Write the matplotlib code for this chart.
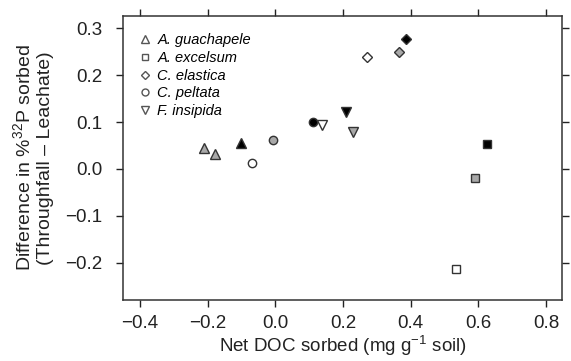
import matplotlib
matplotlib.use("Agg")
import matplotlib.pyplot as plt

plt.rcParams["font.family"] = ["Liberation Sans", "DejaVu Sans"]
plt.rcParams["mathtext.fontset"] = "custom"
plt.rcParams["mathtext.rm"] = "Liberation Sans"

species = ["A. guachapele", "A. excelsum", "C. elastica", "C. peltata", "F. insipida"]
markers = ["^", "s", "D", "o", "v"]
sizes = [7, 6, 5.5, 6, 7]

# each species: open, gray, black treatments
doc_x = {
    "A. guachapele": [-0.178, -0.21, -0.10],
    "A. excelsum": [0.533, 0.589, 0.624],
    "C. elastica": [0.27, 0.364, 0.385],
    "C. peltata": [-0.068, -0.006, 0.112],
    "F. insipida": [0.139, 0.23, 0.21],
}
p32_y = {
    "A. guachapele": [None, 0.045, 0.055],
    "A. excelsum": [-0.213, -0.019, 0.053],
    "C. elastica": [0.238, 0.249, 0.277],
    "C. peltata": [0.012, 0.062, 0.100],
    "F. insipida": [0.094, 0.079, 0.121],
}
# second gray guachapele triangle
extra_gray_x = [-0.178]
extra_gray_y = [0.032]
fills = ["white", "#a8a8a8", "black"]

fig = plt.figure(figsize=(5.71, 3.61), dpi=100)
ax = fig.add_axes([0.2154, 0.169, 0.7688, 0.787])

edge = "#333333"
for sp, mk, ms in zip(species, markers, sizes):
    xs = doc_x[sp]
    ys = p32_y[sp]
    for x, y, fc in zip(xs, ys, fills):
        if y is None:
            continue
        ax.plot(x, y, marker=mk, ms=ms, mfc=fc, mec=edge, mew=1.0, ls="none")
# A. guachapele: two gray triangles, no open one
ax.plot(extra_gray_x, extra_gray_y, marker="^", ms=7, mfc=fills[1], mec=edge, mew=1.0, ls="none")

handles = [ax.plot([], [], marker=mk, ms=ms - 1, mfc="white", mec="#555555", mew=1.0, ls="none")[0]
           for mk, ms in zip(markers, sizes)]
leg = ax.legend(handles, species, loc="upper left", frameon=False, prop={"style": "italic", "size": 10.5},
                handletextpad=0.25, labelspacing=0.25, borderaxespad=0.8, handlelength=1.2,
                bbox_to_anchor=(-0.01, 1.0))

ax.set_xlim(-0.45, 0.847)
ax.set_ylim(-0.279, 0.326)
ax.set_xticks([-0.4, -0.2, 0.0, 0.2, 0.4, 0.6, 0.8])
ax.set_yticks([-0.2, -0.1, 0.0, 0.1, 0.2, 0.3])
ax.set_xticklabels(["\u22120.4", "\u22120.2", "0.0", "0.2", "0.4", "0.6", "0.8"])
ax.set_yticklabels(["\u22120.2", "\u22120.1", "0.0", "0.1", "0.2", "0.3"])
ax.tick_params(direction="out", length=5, width=1, colors="#222222", labelsize=13.5, pad=6,
               top=True, right=True, labeltop=False, labelright=False)
ax.tick_params(axis="y", pad=10)
for s in ax.spines.values():
    s.set_color("#333333")
    s.set_linewidth(1.1)

ax.set_xlabel("Net DOC sorbed (mg g$^{-1}$ soil)", fontsize=13.5, color="#222222", labelpad=1)
ax.set_ylabel("Difference in %$^{32}$P sorbed\n(Throughfall \u2013 Leachate)", fontsize=14,
              color="#222222", linespacing=1.15, labelpad=8)

fig.savefig("out.png", dpi=100)
